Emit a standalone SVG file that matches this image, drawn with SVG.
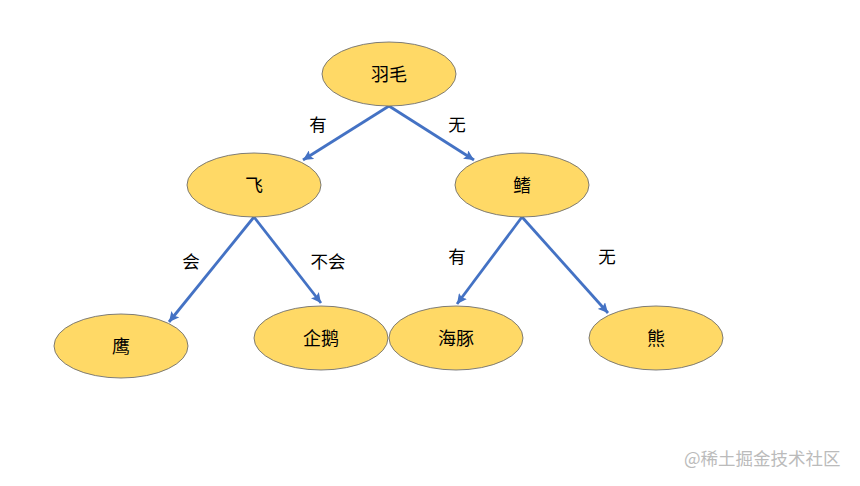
<svg xmlns="http://www.w3.org/2000/svg" width="860" height="486" viewBox="0 0 860 486">
<style>
.node ellipse{fill:#FFD966;stroke:#6F6F6F;stroke-width:0.9}
.node text{font-family:"Noto Sans CJK SC","Liberation Sans",sans-serif;font-size:18px;fill:#000;text-anchor:middle;dominant-baseline:central}
.edge line{stroke:#4472C4;stroke-width:2.8;marker-end:url(#arr)}
.lbl{font-family:"Noto Sans CJK SC","Liberation Sans",sans-serif;font-size:17.5px;fill:#000;text-anchor:middle;dominant-baseline:central}
.wm{font-family:"Noto Sans CJK SC",sans-serif;font-size:17.5px;fill:#BBBBBB}
</style>
<defs>
<marker id="arr" markerUnits="userSpaceOnUse" markerWidth="12" markerHeight="10" refX="10" refY="5" orient="auto">
<path d="M0,0 L10,5 L0,10 L2,5 Z" fill="#4472C4"/>
</marker>
</defs>
<rect width="860" height="486" fill="#fff"/>
<g id="connectors" class="edge">
<line x1="389" y1="106" x2="303" y2="160"/>
<line x1="389" y1="106" x2="474" y2="160"/>
<line x1="254" y1="217" x2="169" y2="322"/>
<line x1="254" y1="217" x2="321" y2="303"/>
<line x1="522" y1="217" x2="457" y2="304"/>
<line x1="522" y1="217" x2="608" y2="313"/>
</g>
<g id="labels">
<text class="lbl" x="318" y="123">有</text>
<text class="lbl" x="457" y="123">无</text>
<text class="lbl" x="191" y="260">会</text>
<text class="lbl" x="328" y="260">不会</text>
<text class="lbl" x="457" y="255">有</text>
<text class="lbl" x="607" y="255">无</text>
</g>
<g id="n-feather" class="node"><ellipse cx="389" cy="74" rx="67" ry="32"/><text x="389" y="73">羽毛</text></g>
<g id="n-fly" class="node"><ellipse cx="254" cy="185" rx="67" ry="32"/><text x="254" y="184">飞</text></g>
<g id="n-fin" class="node"><ellipse cx="522" cy="185" rx="67" ry="32"/><text x="522" y="184">鳍</text></g>
<g id="n-eagle" class="node"><ellipse cx="121" cy="346" rx="67" ry="32"/><text x="121" y="345">鹰</text></g>
<g id="n-penguin" class="node"><ellipse cx="321" cy="338" rx="67" ry="32"/><text x="321" y="337">企鹅</text></g>
<g id="n-dolphin" class="node"><ellipse cx="456" cy="338" rx="67" ry="32"/><text x="456" y="337">海豚</text></g>
<g id="n-bear" class="node"><ellipse cx="656" cy="338" rx="67" ry="32"/><text x="656" y="337">熊</text></g>
<text class="wm" x="684" y="465">@稀土掘金技术社区</text>
</svg>
